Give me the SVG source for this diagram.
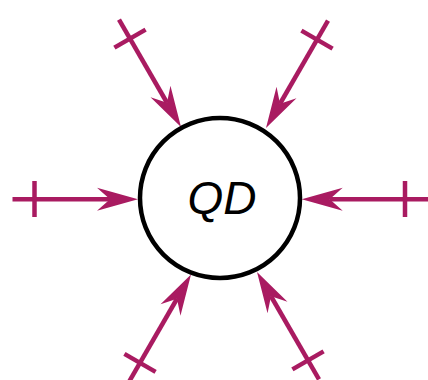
<svg xmlns="http://www.w3.org/2000/svg" width="428" height="380" viewBox="0 0 428 380">
  <style>
    .conn { stroke: #a91b61; stroke-width: 4.5; fill: none; }
    .tick { stroke: #a91b61; stroke-width: 4.5; fill: none; }
    .node { fill: #ffffff; stroke: #000000; stroke-width: 4.5; }
    .label { font-family: "Liberation Sans", Arial, sans-serif; font-style: italic; font-size: 46px; fill: #000000; }
  </style>
  <defs>
    <marker id="arrow" markerUnits="userSpaceOnUse" viewBox="-14 -12 44 24" refX="0" refY="0" markerWidth="44" markerHeight="24" orient="auto" overflow="visible">
      <path d="M28,0 L-13,-11.5 L0,0 L-13,11.5 Z" fill="#a91b61"/>
    </marker>
  </defs>
  <rect width="428" height="380" fill="#ffffff"/>
  <g id="connectors">
    <line class="conn" x1="12.5" y1="199.3" x2="110" y2="199.3" marker-end="url(#arrow)"/>
    <line class="tick" x1="34.5" y1="181" x2="34.5" y2="217"/>
    <line class="conn" x1="430" y1="199.3" x2="329.7" y2="199.3" marker-end="url(#arrow)"/>
    <line class="tick" x1="405" y1="181" x2="405" y2="217"/>
    <line class="conn" x1="119" y1="19.62" x2="167" y2="102.75" marker-end="url(#arrow)"/>
    <line class="tick" x1="145.59" y1="29.67" x2="114.41" y2="47.67"/>
    <line class="conn" x1="328" y1="20.62" x2="280" y2="103.75" marker-end="url(#arrow)"/>
    <line class="tick" x1="332.59" y1="48.67" x2="301.41" y2="30.67"/>
    <line class="conn" x1="129" y1="381.88" x2="177" y2="298.75" marker-end="url(#arrow)"/>
    <line class="tick" x1="155.59" y1="371.83" x2="124.41" y2="353.83"/>
    <line class="conn" x1="319" y1="379.38" x2="271" y2="296.25" marker-end="url(#arrow)"/>
    <line class="tick" x1="323.59" y1="351.33" x2="292.41" y2="369.33"/>
  </g>
  <g id="QD">
    <circle class="node" cx="220" cy="198" r="80"/>
    <text class="label" x="222" y="214" text-anchor="middle">QD</text>
  </g>
</svg>
